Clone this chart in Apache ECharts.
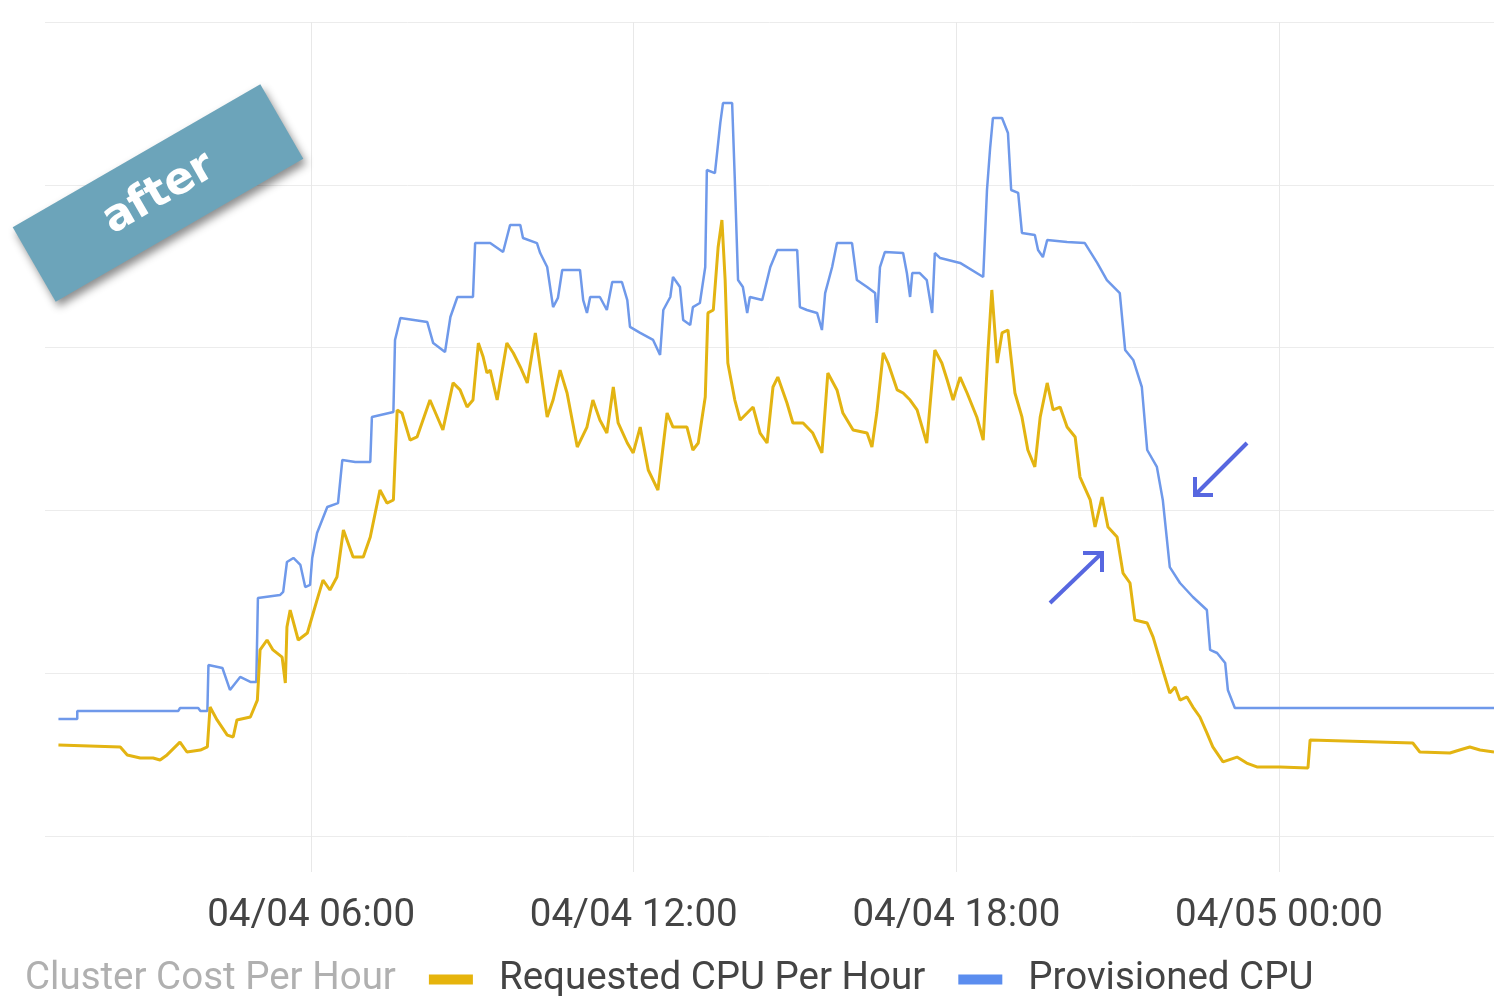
<!DOCTYPE html>
<html>
<head>
<meta charset="utf-8">
<script src="https://cdn.jsdelivr.net/npm/echarts@6/dist/echarts.min.js"></script>
<style>
  html, body { margin: 0; padding: 0; background: #ffffff; }
  #chart { width: 1494px; height: 996px; }
</style>
</head>
<body>
<div id="chart"></div>
<script>
// ---- data (hours since 04/04 00:00, CPU units) ----
const seriesNames = ['Cluster Cost Per Hour', 'Requested CPU Per Hour', 'Provisioned CPU'];
const tickHours = [6, 12, 18, 24];
const tickLabels = ['04/04 06:00', '04/04 12:00', '04/04 18:00', '04/05 00:00'];

const provisionedHours = [1.30,1.65,1.65,3.53,3.56,3.90,3.94,4.07,4.09,4.35,4.49,4.68,4.87,4.98,5.01,5.42,5.48,5.55,5.67,5.80,5.89,5.98,6.02,6.11,6.30,6.50,6.58,6.82,7.10,7.13,7.53,7.56,7.66,8.16,8.27,8.49,8.59,8.72,9.01,9.05,9.33,9.57,9.70,9.89,9.94,10.20,10.26,10.39,10.50,10.59,10.67,11.00,11.06,11.13,11.19,11.37,11.50,11.60,11.78,11.88,11.93,12.12,12.36,12.49,12.55,12.68,12.73,12.86,12.92,13.05,13.10,13.23,13.33,13.36,13.51,13.61,13.66,13.83,13.88,13.94,14.03,14.11,14.16,14.39,14.54,14.67,15.04,15.09,15.22,15.41,15.50,15.56,15.69,15.78,16.06,16.15,16.34,16.49,16.52,16.58,16.67,17.01,17.08,17.14,17.18,17.32,17.45,17.55,17.60,17.70,18.07,18.50,18.57,18.63,18.68,18.85,18.96,19.02,19.15,19.22,19.46,19.52,19.61,19.69,20.06,20.39,20.62,20.80,21.04,21.14,21.29,21.45,21.55,21.73,21.84,21.97,22.16,22.40,22.66,22.72,22.85,23.00,23.05,23.18,28.00];
const provisionedCpu = [7.19,7.19,7.68,7.68,7.86,7.86,7.68,7.68,10.50,10.32,8.97,9.77,9.46,9.46,14.62,14.80,14.99,16.83,17.08,16.65,15.29,15.42,17.08,18.61,20.21,20.45,23.10,22.97,22.97,25.74,26.04,30.47,31.82,31.57,30.28,29.73,31.88,33.11,33.11,36.42,36.42,35.87,37.53,37.53,36.73,36.42,35.81,34.95,32.49,33.05,34.77,34.77,32.92,32.13,33.11,33.11,32.31,34.03,34.03,32.92,31.27,30.90,30.47,29.55,32.31,33.11,34.34,33.72,31.69,31.39,32.49,32.74,34.95,40.91,40.72,43.80,45.02,45.02,40.29,34.15,33.72,32.13,33.11,32.92,34.95,35.99,35.99,32.49,32.31,32.13,31.08,33.35,34.95,36.42,36.42,34.15,33.72,33.35,31.51,34.95,35.87,35.81,34.58,33.11,34.58,34.58,34.15,32.13,35.81,35.50,35.20,34.34,39.68,42.32,44.10,44.10,43.18,39.68,39.50,37.04,36.92,35.99,35.56,36.61,36.49,36.42,35.20,34.15,33.35,29.85,29.24,27.58,23.71,22.67,20.64,16.52,15.54,14.68,13.88,11.43,11.24,10.63,8.97,7.86,7.86];

const requestedHours = [1.30,2.45,2.58,2.82,3.06,3.19,3.32,3.56,3.69,3.94,4.07,4.12,4.25,4.44,4.55,4.62,4.87,5.00,5.05,5.18,5.29,5.46,5.52,5.55,5.61,5.76,5.93,6.11,6.22,6.35,6.48,6.60,6.78,6.97,7.10,7.28,7.41,7.53,7.60,7.69,7.84,7.97,8.21,8.45,8.64,8.77,8.90,9.01,9.11,9.20,9.27,9.33,9.46,9.64,9.76,9.89,10.02,10.17,10.26,10.39,10.50,10.63,10.76,10.95,11.13,11.24,11.37,11.50,11.62,11.71,11.88,11.99,12.12,12.27,12.45,12.62,12.73,12.99,13.10,13.20,13.33,13.38,13.48,13.57,13.64,13.70,13.75,13.88,13.98,14.11,14.22,14.35,14.48,14.59,14.68,14.85,14.96,15.15,15.33,15.50,15.61,15.78,15.89,16.08,16.34,16.43,16.52,16.64,16.73,16.90,17.01,17.14,17.27,17.45,17.60,17.73,17.83,17.94,18.07,18.20,18.38,18.50,18.59,18.66,18.76,18.85,18.96,19.09,19.22,19.33,19.46,19.56,19.69,19.80,19.93,20.06,20.21,20.30,20.49,20.58,20.71,20.82,20.99,21.10,21.23,21.32,21.55,21.66,21.84,21.97,22.07,22.16,22.29,22.40,22.53,22.66,22.77,22.96,23.22,23.40,23.59,24.02,24.54,24.58,26.49,26.62,27.18,27.36,27.55,27.74,28.00];
const requestedCpu = [5.59,5.47,4.98,4.79,4.79,4.67,4.98,5.77,5.16,5.28,5.47,7.92,7.13,6.20,6.08,7.13,7.31,8.35,11.43,12.04,11.43,10.99,9.40,12.84,13.88,12.04,12.47,14.50,15.72,15.11,15.91,18.80,17.14,17.14,18.37,21.25,20.45,20.64,26.17,25.98,24.32,24.51,26.78,24.94,27.83,27.40,26.35,26.78,30.28,29.42,28.44,28.62,26.78,30.28,29.67,28.81,27.83,30.90,28.81,25.74,26.78,28.62,27.21,23.89,25.12,26.78,25.55,24.75,27.58,25.37,24.14,23.53,25.12,22.48,21.25,25.98,25.12,25.12,23.71,24.14,26.97,32.13,32.31,36.18,37.84,34.15,29.05,26.78,25.55,25.98,26.35,24.75,24.14,27.58,28.19,26.60,25.37,25.37,24.75,23.53,28.44,27.40,25.98,24.94,24.75,23.89,25.98,29.67,29.05,27.40,27.21,26.78,26.17,24.14,29.85,29.05,28.01,26.78,28.19,27.21,25.74,24.32,29.85,33.54,29.05,30.90,31.08,27.21,25.74,23.71,22.67,25.74,27.83,26.17,26.35,25.12,24.51,22.05,20.64,18.98,20.82,18.98,18.37,16.15,15.54,13.27,13.08,12.22,10.20,8.78,9.15,8.35,8.54,7.92,7.31,6.33,5.47,4.55,4.85,4.48,4.24,4.24,4.18,5.90,5.71,5.16,5.10,5.28,5.47,5.28,5.16];

const zip = (xs, ys) => xs.map((x, i) => [x, ys[i]]);

const chart = echarts.init(document.getElementById('chart'), null, { renderer: 'canvas' });
const FONT = 'Roboto';
const arrowColor = '#5767e0';

chart.setOption({
  backgroundColor: '#ffffff',
  animation: false,
  textStyle: { fontFamily: FONT },
  grid: { left: 45, right: 0, top: 22, bottom: 160, containLabel: false },
  xAxis: {
    type: 'value',
    min: 1.05,
    max: 28,
    axisLine: { show: false },
    axisTick: { show: true, customValues: tickHours, length: 36, lineStyle: { color: '#e8e8e8', width: 1 } },
    axisLabel: {
      customValues: tickHours,
      margin: 61,
      fontFamily: FONT,
      fontSize: 38.5,
      color: '#444444',
      formatter: v => tickLabels[tickHours.indexOf(v)] || ''
    },
    splitLine: { show: true, lineStyle: { color: '#e8e8e8', width: 1 } }
  },
  yAxis: {
    type: 'value',
    min: 0,
    max: 50,
    interval: 10,
    axisLine: { show: false },
    axisTick: { show: false },
    axisLabel: { show: false },
    splitLine: { show: true, lineStyle: { color: '#ececec', width: 1 } }
  },
  legend: {
    left: -33,
    top: 955,
    itemWidth: 44,
    itemHeight: 10,
    itemGap: 33,
    inactiveColor: '#b0b0b0',
    selectedMode: true,
    selected: { 'Cluster Cost Per Hour': false },
    textStyle: { fontFamily: FONT, fontSize: 38.5, color: '#444444', padding: [0, 0, 0, 21] },
    data: [
      { name: seriesNames[0], icon: 'circle' },
      { name: seriesNames[1], icon: 'rect' },
      { name: seriesNames[2], icon: 'rect' }
    ]
  },
  series: [
    {
      name: seriesNames[0], type: 'line', data: [], showSymbol: false,
      itemStyle: { color: '#34a853' }, lineStyle: { color: '#34a853' }
    },
    {
      name: seriesNames[1], type: 'line', data: zip(requestedHours, requestedCpu),
      showSymbol: false, symbol: 'none',
      itemStyle: { color: '#e6b40c' },
      lineStyle: { color: '#e3b412', width: 3 },
      z: 3
    },
    {
      name: seriesNames[2], type: 'line', data: zip(provisionedHours, provisionedCpu),
      showSymbol: false, symbol: 'none',
      itemStyle: { color: '#5b8def' },
      lineStyle: { color: '#6f99ea', width: 2.5 },
      z: 2
    }
  ],
  graphic: {
    zlevel: 2,
    z: 100,
    elements: [
      {
        type: 'polygon',
        zlevel: 2, z: 100,
        shape: { points: [[12.7, 227.3], [260.3, 84.3], [303.3, 158.7], [55.7, 301.7]] },
        style: { fill: '#6ca4ba', shadowBlur: 8, shadowOffsetX: 3, shadowOffsetY: 5, shadowColor: 'rgba(0,0,0,0.45)' }
      },
      {
        type: 'text',
        zlevel: 2, z: 101,
        x: 159, y: 194,
        rotation: Math.PI / 6,
        style: {
          text: 'after', fill: '#ffffff',
          font: 'bold 44px "DejaVu Sans"',
          align: 'center', verticalAlign: 'middle'
        }
      },
      {
        type: 'polyline', zlevel: 2, z: 100,
        shape: { points: [[1247, 443], [1195, 495]] },
        style: { stroke: arrowColor, lineWidth: 4, fill: null }
      },
      {
        type: 'polyline', zlevel: 2, z: 100,
        shape: { points: [[1195, 477], [1195, 495], [1213, 495]] },
        style: { stroke: arrowColor, lineWidth: 4, fill: null }
      },
      {
        type: 'polyline', zlevel: 2, z: 100,
        shape: { points: [[1050, 603], [1102, 553]] },
        style: { stroke: arrowColor, lineWidth: 4, fill: null }
      },
      {
        type: 'polyline', zlevel: 2, z: 100,
        shape: { points: [[1083, 553], [1102, 553], [1102, 572]] },
        style: { stroke: arrowColor, lineWidth: 4, fill: null }
      }
    ]
  }
});
</script>
</body>
</html>
